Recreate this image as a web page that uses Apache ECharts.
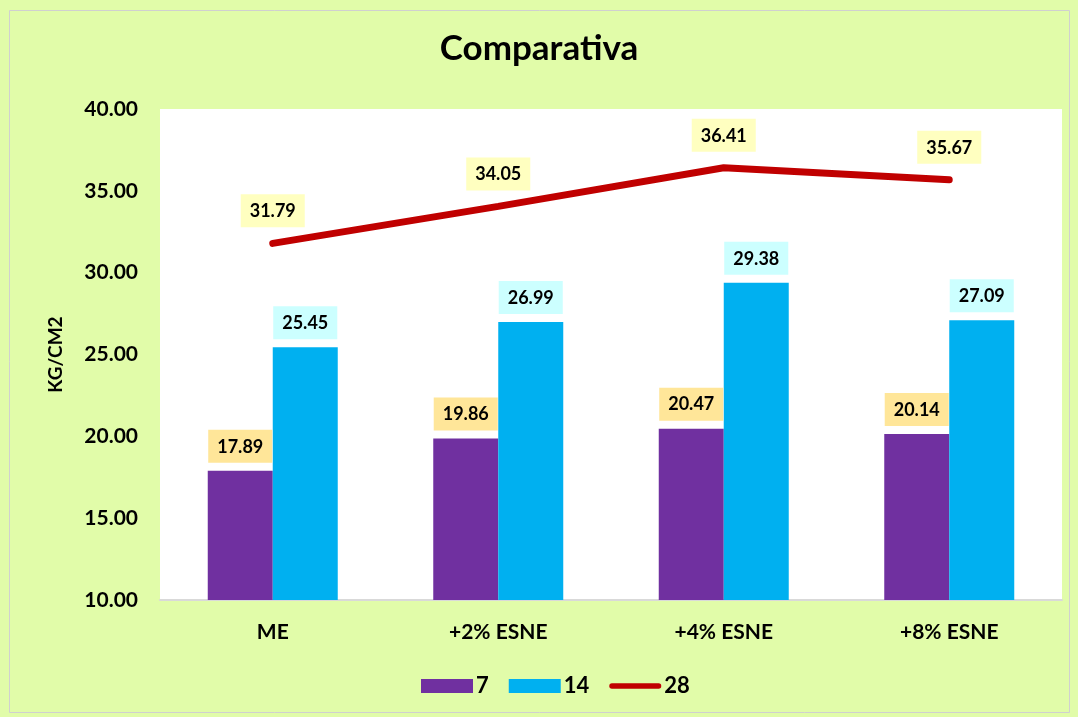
<!DOCTYPE html>
<html><head><meta charset="utf-8">
<script src="https://cdn.jsdelivr.net/npm/echarts@6/dist/echarts.min.js"></script>
<style>html,body{margin:0;padding:0;background:#fff}#c{width:1078px;height:717px}</style>
</head><body><div id="c"></div>
<script>
const categories = ['ME', '+2% ESNE', '+4% ESNE', '+8% ESNE'];
const s7 = [17.89, 19.86, 20.47, 20.14];
const s14 = [25.45, 26.99, 29.38, 27.09];
const s28 = [31.79, 34.05, 36.41, 35.67];
const seriesNames = ['7', '14', '28'];

const chart = echarts.init(document.getElementById('c'));
const FONT = 'Lato, "Open Sans", sans-serif';
const lbl = (bg) => ({
  show: true, position: 'top', distance: 8,
  formatter: p => p.value.toFixed(2),
  backgroundColor: bg, padding: [8, 9, 7, 9],
  color: '#000', fontFamily: FONT, fontWeight: 'bold', fontSize: 18
});
chart.setOption({
  backgroundColor: '#E1FCA9',
  animation: false,
  graphic: [{ type: 'rect', shape: { x: 9.5, y: 10.5, width: 1060, height: 702 }, style: { fill: 'none', stroke: '#d0d0d0', lineWidth: 1 } }],
  title: { text: 'Comparativa', left: 'center', top: 26, textStyle: { fontFamily: FONT, fontWeight: 'bold', fontSize: 35, color: '#000' } },
  legend: {
    bottom: 15, left: 416, itemGap: 20, itemWidth: 52, itemHeight: 14,
    textStyle: { fontFamily: FONT, fontWeight: 'bold', fontSize: 22, color: '#000', padding: [0, 0, 0, -2] },
    data: [
      { name: '7', icon: 'rect' },
      { name: '14', icon: 'rect' },
      { name: '28', icon: 'path://M3,0 L55,0 A3,3 0 0 1 55,6 L3,6 A3,3 0 0 1 3,0 Z', itemStyle: { color: '#C00000', opacity: 1 } }
    ]
  },
  grid: { left: 160, right: 16, top: 109, bottom: 117, backgroundColor: '#fff', show: true, borderWidth: 0 },
  xAxis: {
    type: 'category', data: categories,
    axisLine: { lineStyle: { color: '#d9d9d9', width: 2 } }, axisTick: { show: false },
    axisLabel: { fontFamily: FONT, fontWeight: 'bold', fontSize: 21, color: '#000', margin: 22 }
  },
  yAxis: {
    type: 'value', min: 10, max: 40, interval: 5,
    name: 'KG/CM2', nameLocation: 'middle', nameGap: 95, nameRotate: 90,
    nameTextStyle: { fontFamily: FONT, fontWeight: 'bold', fontSize: 19, color: '#000' },
    axisLabel: { formatter: v => v.toFixed(2), fontFamily: FONT, fontWeight: 'bold', fontSize: 21, color: '#000', margin: 22 },
    axisLine: { show: false }, axisTick: { show: false }, splitLine: { show: false }
  },
  series: [
    { name: seriesNames[0], type: 'bar', data: s7, barWidth: 65, barGap: '0%', itemStyle: { color: '#7030A0' }, label: lbl('#FFE699') },
    { name: seriesNames[1], type: 'bar', data: s14, barWidth: 65, itemStyle: { color: '#00B0F0' }, label: lbl('#CCFFFF') },
    { name: seriesNames[2], type: 'line', data: s28, symbol: 'circle', symbolSize: 2, showSymbol: true,
      lineStyle: { color: '#C00000', width: 7, cap: 'round' }, itemStyle: { color: '#C00000' },
      label: Object.assign(lbl('#FFFFC0'), { distance: 15 }) }
  ]
});
</script></body></html>
